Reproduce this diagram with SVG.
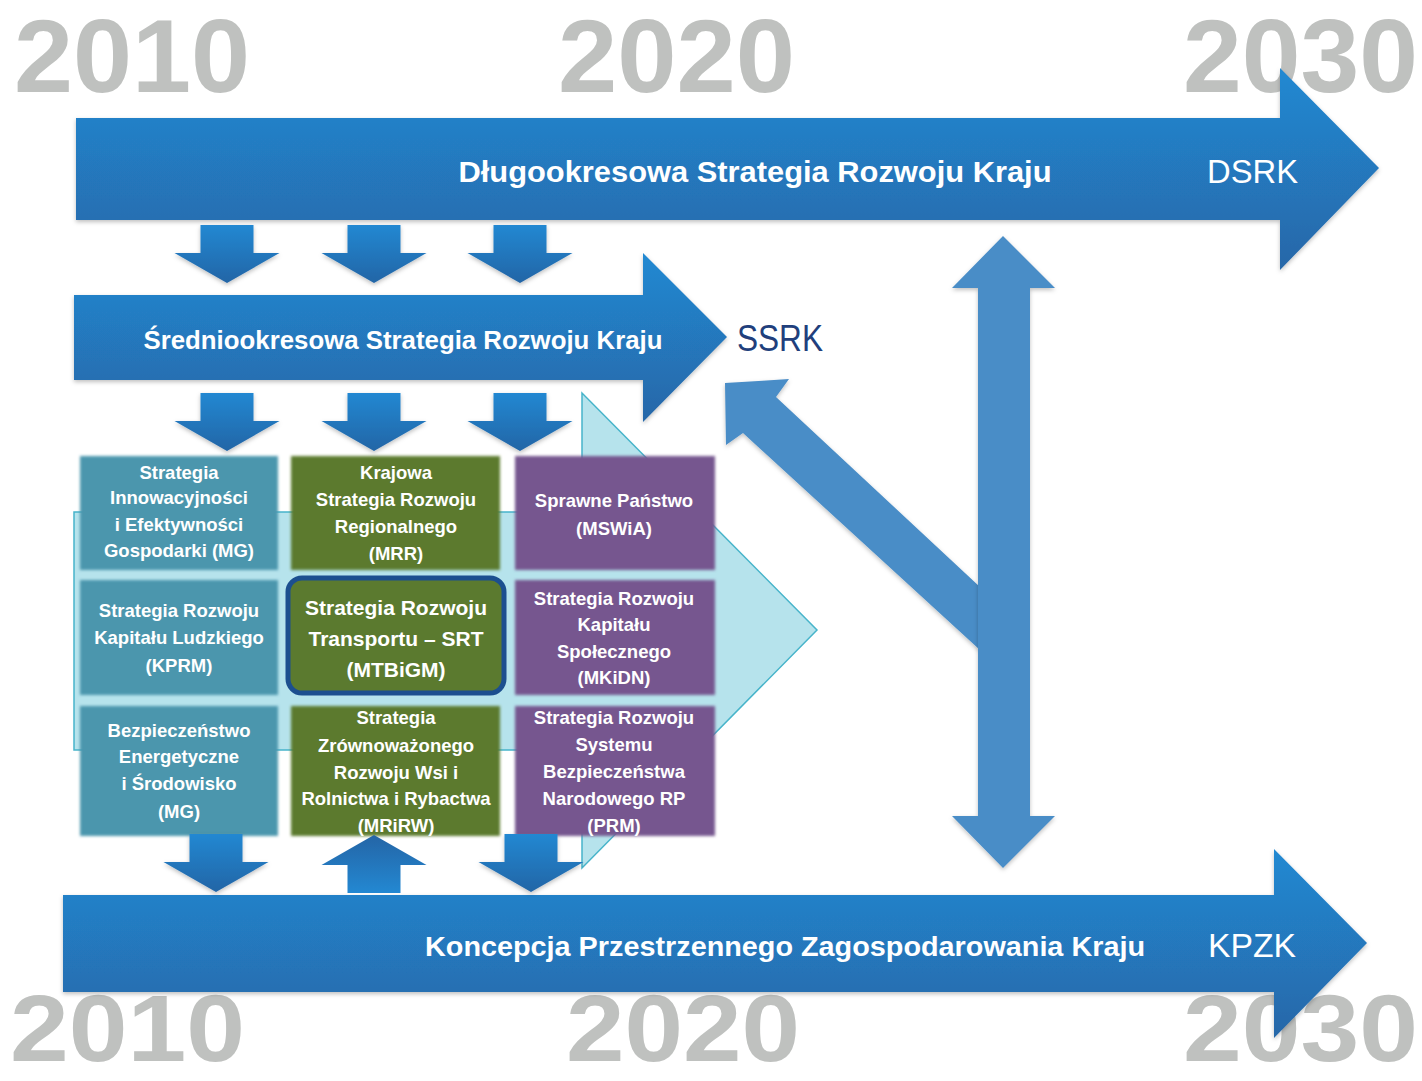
<svg xmlns="http://www.w3.org/2000/svg" width="1422" height="1081" viewBox="0 0 1422 1081">
<defs>
<linearGradient id="gBlue" x1="0" y1="0" x2="0" y2="1">
<stop offset="0" stop-color="#2389d2"/>
<stop offset="1" stop-color="#2667a8"/>
</linearGradient>
<linearGradient id="gSmall" x1="0" y1="0" x2="0" y2="1">
<stop offset="0" stop-color="#2388d2"/>
<stop offset="1" stop-color="#2465a6"/>
</linearGradient>
<filter id="shadow" x="-5%" y="-5%" width="110%" height="115%">
<feDropShadow dx="0" dy="2" stdDeviation="2" flood-color="#000" flood-opacity="0.25"/>
</filter>
<filter id="soft" x="-5%" y="-5%" width="110%" height="110%">
<feGaussianBlur stdDeviation="1.6"/>
</filter>
<path id="down" d="M-26.5,0 H26.5 V28 H52.5 L0,58 L-52.5,28 H-26.5 Z"/>
<style>
.year{font-family:"Liberation Sans",Arial,sans-serif;font-weight:bold;font-size:104px;fill:#bfc1bf}
.yearb{font-family:"Liberation Sans",Arial,sans-serif;font-weight:bold;font-size:94px;fill:#bfc1bf}
.title{font-family:"Liberation Sans",Arial,sans-serif;font-weight:bold;fill:#fff;text-anchor:middle}
.abbr{font-family:"Liberation Sans",Arial,sans-serif;font-size:34px;fill:#fff}
.bt{font-family:"Liberation Sans",Arial,sans-serif;font-weight:bold;font-size:18.5px;fill:#fff;text-anchor:middle}
.bt2{font-family:"Liberation Sans",Arial,sans-serif;font-weight:bold;font-size:21px;fill:#fff;text-anchor:middle}
.teal{fill:#4b96ad}
.green{fill:#5b7a2f}
.purple{fill:#76568f}
.mid{fill:#4a8dc7}
.small{fill:url(#gSmall)}
</style>
</defs>
<rect width="1422" height="1081" fill="#fff"/>

<g id="years">
<text class="year" x="14" y="92" textLength="236" lengthAdjust="spacingAndGlyphs">2010</text>
<text class="year" x="558" y="92" textLength="237" lengthAdjust="spacingAndGlyphs">2020</text>
<text class="year" x="1183" y="92" textLength="235" lengthAdjust="spacingAndGlyphs">2030</text>
<text class="yearb" x="10" y="1061" textLength="235" lengthAdjust="spacingAndGlyphs">2010</text>
<text class="yearb" x="566" y="1061" textLength="234" lengthAdjust="spacingAndGlyphs">2020</text>
<text class="yearb" x="1183" y="1061" textLength="235" lengthAdjust="spacingAndGlyphs">2030</text>
</g>

<g id="dsrk">
<path d="M76,118 H1280 V68 L1379,168 L1280,270 V220 H76 Z" fill="url(#gBlue)" filter="url(#shadow)"/>
<text class="title" x="755" y="182" font-size="30" textLength="593" lengthAdjust="spacingAndGlyphs">Długookresowa Strategia Rozwoju Kraju</text>
<text class="abbr" x="1207" y="183" textLength="91" lengthAdjust="spacingAndGlyphs">DSRK</text>
</g>

<g id="ssrk">
<path d="M74,295 H643 V253 L727,337 L643,422 V380 H74 Z" fill="url(#gBlue)" filter="url(#shadow)"/>
<text class="title" x="403" y="349" font-size="26" textLength="519" lengthAdjust="spacingAndGlyphs">Średniookresowa Strategia Rozwoju Kraju</text>
<text x="737" y="351" font-family="Liberation Sans, Arial, sans-serif" font-size="36" fill="#213f7c" textLength="86" lengthAdjust="spacingAndGlyphs">SSRK</text>
</g>

<g id="background-arrow">
<path d="M74,512 H582 V393 L817,630 L582,868 V750 H74 Z" fill="#b6e3ec" stroke="#47b4ca" stroke-width="1.5"/>
</g>

<g id="box-sieg">
<rect x="80" y="456" width="198" height="114" class="teal" filter="url(#soft)"/>
<text class="bt" x="179" y="479">Strategia</text>
<text class="bt" x="179" y="504">Innowacyjności</text>
<text class="bt" x="179" y="531">i Efektywności</text>
<text class="bt" x="179" y="557">Gospodarki (MG)</text>
</g>
<g id="box-srkl">
<rect x="80" y="580" width="198" height="115" class="teal" filter="url(#soft)"/>
<text class="bt" x="179" y="617">Strategia Rozwoju</text>
<text class="bt" x="179" y="644">Kapitału Ludzkiego</text>
<text class="bt" x="179" y="672">(KPRM)</text>
</g>
<g id="box-beis">
<rect x="80" y="706" width="198" height="130" class="teal" filter="url(#soft)"/>
<text class="bt" x="179" y="737">Bezpieczeństwo</text>
<text class="bt" x="179" y="763">Energetyczne</text>
<text class="bt" x="179" y="790">i Środowisko</text>
<text class="bt" x="179" y="818">(MG)</text>
</g>
<g id="box-ksrr">
<rect x="291" y="456" width="209" height="114" class="green" filter="url(#soft)"/>
<text class="bt" x="396" y="479">Krajowa</text>
<text class="bt" x="396" y="506">Strategia Rozwoju</text>
<text class="bt" x="396" y="533">Regionalnego</text>
<text class="bt" x="396" y="560">(MRR)</text>
</g>
<g id="box-srt">
<rect x="288" y="578" width="216" height="115" rx="14" class="green" stroke="#1c4f8f" stroke-width="5"/>
<text class="bt2" x="396" y="615">Strategia Rozwoju</text>
<text class="bt2" x="396" y="646">Transportu – SRT</text>
<text class="bt2" x="396" y="677">(MTBiGM)</text>
</g>
<g id="box-szrwrr">
<rect x="291" y="706" width="209" height="130" class="green" filter="url(#soft)"/>
<text class="bt" x="396" y="724">Strategia</text>
<text class="bt" x="396" y="752">Zrównoważonego</text>
<text class="bt" x="396" y="779">Rozwoju Wsi i</text>
<text class="bt" x="396" y="805">Rolnictwa i Rybactwa</text>
<text class="bt" x="396" y="832">(MRiRW)</text>
</g>
<g id="box-sp">
<rect x="515" y="456" width="200" height="114" class="purple" filter="url(#soft)"/>
<text class="bt" x="614" y="507">Sprawne Państwo</text>
<text class="bt" x="614" y="535">(MSWiA)</text>
</g>
<g id="box-srks">
<rect x="515" y="580" width="200" height="115" class="purple" filter="url(#soft)"/>
<text class="bt" x="614" y="605">Strategia Rozwoju</text>
<text class="bt" x="614" y="631">Kapitału</text>
<text class="bt" x="614" y="658">Społecznego</text>
<text class="bt" x="614" y="684">(MKiDN)</text>
</g>
<g id="box-srsbn">
<rect x="515" y="706" width="200" height="130" class="purple" filter="url(#soft)"/>
<text class="bt" x="614" y="724">Strategia Rozwoju</text>
<text class="bt" x="614" y="751">Systemu</text>
<text class="bt" x="614" y="778">Bezpieczeństwa</text>
<text class="bt" x="614" y="805">Narodowego RP</text>
<text class="bt" x="614" y="832">(PRM)</text>
</g>

<g id="kpzk">
<path d="M63,895 H1274 V849 L1367,943 L1274,1038 V992 H63 Z" fill="url(#gBlue)" filter="url(#shadow)"/>
<text class="title" x="785" y="956" font-size="27" textLength="720" lengthAdjust="spacingAndGlyphs">Koncepcja Przestrzennego Zagospodarowania Kraju</text>
<text class="abbr" x="1208" y="957" textLength="88" lengthAdjust="spacingAndGlyphs">KPZK</text>
</g>

<g id="connectors">
<use href="#down" class="small" transform="translate(227,225)" filter="url(#shadow)"/>
<use href="#down" class="small" transform="translate(374,225)" filter="url(#shadow)"/>
<use href="#down" class="small" transform="translate(520,225)" filter="url(#shadow)"/>
<use href="#down" class="small" transform="translate(227,393)" filter="url(#shadow)"/>
<use href="#down" class="small" transform="translate(374,393)" filter="url(#shadow)"/>
<use href="#down" class="small" transform="translate(520,393)" filter="url(#shadow)"/>
<use href="#down" class="small" transform="translate(216,834)" filter="url(#shadow)"/>
<use href="#down" class="small" transform="translate(374,893) scale(1,-1)"/>
<use href="#down" class="small" transform="translate(531,834)" filter="url(#shadow)"/>
<path class="mid" d="M725,383 L789,379 L776,397 L980,587 L980,650 L743,433 L726,445 Z" filter="url(#shadow)"/>
<path class="mid" d="M1003,236 L1055,288 H1030 V816 H1055 L1003,868 L952,816 H978 V288 H952 Z" filter="url(#shadow)"/>
</g>
</svg>
